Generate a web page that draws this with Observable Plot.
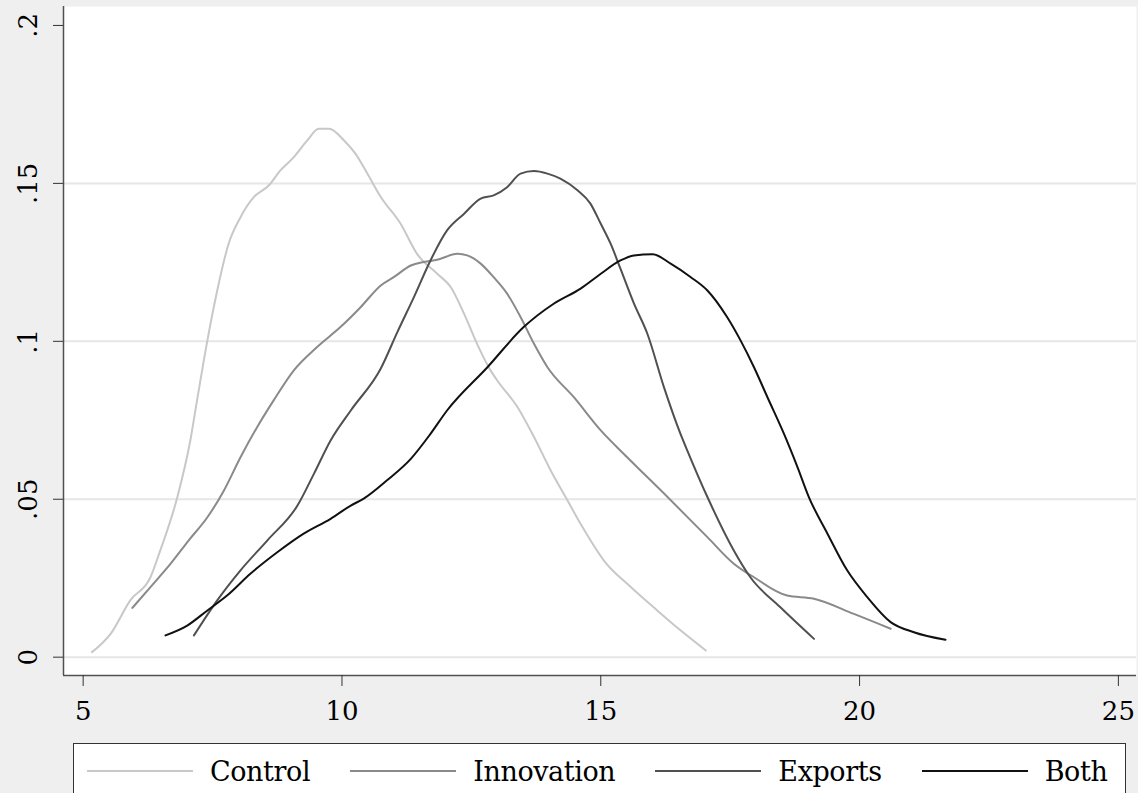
<!DOCTYPE html>
<html>
<head>
<meta charset="utf-8">
<script src="https://cdn.jsdelivr.net/npm/d3@7"></script>
<script src="https://cdn.jsdelivr.net/npm/@observablehq/plot@0.6"></script>
<style>
  html, body { margin: 0; padding: 0; background: #efefef; width: 1138px; height: 793px; overflow: hidden; }
  #chart { position: absolute; left: 0; top: 0; }
  #legend {
    position: absolute; left: 73px; top: 743px; width: 1053px; height: 90px;
    border: 1.5px solid #333; background: #fff; box-sizing: border-box;
    display: flex; align-items: center; height: 90px; padding-left: 13px; padding-bottom: 34px;
    font-family: 'DejaVu Serif', serif; font-size: 27px; color: #000;
  }
  .sw { flex: 0 0 106px; width: 106px; height: 0; border-top: 2px solid; margin-right: 17px; }
  .lab { flex: 0 0 auto; margin-right: 40px; line-height: 1; white-space: nowrap; letter-spacing: -0.4px; }
</style>
</head>
<body>
<div id="chart"></div>
<div id="legend"></div>
<script>
// ---- data ----
const seriesNames = ["Control", "Innovation", "Exports", "Both"];
const seriesColors = ["#c8c8c8", "#8a8a8a", "#505050", "#111111"];

const controlX = [5.17, 5.53, 5.91, 6.30, 6.49, 6.82, 7.07, 7.20, 7.40, 7.59, 7.81, 8.04, 8.30, 8.59, 8.81, 9.07, 9.33, 9.55, 9.75, 10.04, 10.26, 10.49, 10.75, 11.13, 11.45, 11.84, 12.10, 12.36, 12.61, 12.87, 13.00, 13.39, 13.71, 14.03, 14.32, 14.61, 15.06, 15.58, 16.09, 16.54, 17.03];
const controlY = [0.0016, 0.0074, 0.0180, 0.0253, 0.0338, 0.0507, 0.0686, 0.0813, 0.1003, 0.1161, 0.1309, 0.1393, 0.1457, 0.1494, 0.1541, 0.1583, 0.1636, 0.1673, 0.1673, 0.1636, 0.1594, 0.1531, 0.1457, 0.1373, 0.1277, 0.1214, 0.1172, 0.1087, 0.0992, 0.0908, 0.0876, 0.0792, 0.0697, 0.0592, 0.0507, 0.0422, 0.0306, 0.0222, 0.0148, 0.0085, 0.0021];

const innovationX = [5.95, 6.30, 6.69, 7.04, 7.40, 7.72, 8.04, 8.36, 8.68, 9.07, 9.52, 9.97, 10.36, 10.75, 11.00, 11.33, 11.58, 11.84, 12.23, 12.42, 12.68, 12.93, 13.19, 13.45, 13.71, 13.97, 14.48, 15.00, 15.51, 16.29, 17.06, 17.57, 17.96, 18.60, 19.12, 19.89, 20.60];
const innovationY = [0.0156, 0.0222, 0.0296, 0.0370, 0.0443, 0.0528, 0.0633, 0.0728, 0.0813, 0.0908, 0.0982, 0.1045, 0.1108, 0.1177, 0.1203, 0.1240, 0.1251, 0.1258, 0.1277, 0.1272, 0.1246, 0.1203, 0.1151, 0.1077, 0.0992, 0.0918, 0.0823, 0.0718, 0.0633, 0.0507, 0.0380, 0.0296, 0.0253, 0.0195, 0.0185, 0.0137, 0.0090];

const exportsX = [7.14, 7.59, 8.04, 8.56, 9.14, 9.46, 9.78, 10.17, 10.75, 11.07, 11.39, 11.71, 12.03, 12.36, 12.68, 12.93, 13.19, 13.45, 13.71, 13.97, 14.22, 14.55, 14.80, 15.00, 15.19, 15.38, 15.64, 15.90, 16.22, 16.54, 16.67, 17.06, 17.57, 17.89, 18.47, 19.12];
const exportsY = [0.0069, 0.0180, 0.0275, 0.0370, 0.0480, 0.0581, 0.0686, 0.0781, 0.0914, 0.1029, 0.1140, 0.1256, 0.1351, 0.1404, 0.1452, 0.1462, 0.1488, 0.1531, 0.1539, 0.1531, 0.1515, 0.1478, 0.1436, 0.1372, 0.1309, 0.1230, 0.1120, 0.1024, 0.0855, 0.0707, 0.0655, 0.0507, 0.0338, 0.0253, 0.0158, 0.0058];

const bothX = [6.59, 7.01, 7.40, 7.78, 8.23, 8.75, 9.26, 9.78, 10.17, 10.42, 10.87, 11.33, 11.71, 12.03, 12.81, 13.51, 14.09, 14.61, 15.00, 15.38, 15.64, 16.00, 16.35, 16.74, 17.06, 17.44, 17.70, 17.96, 18.22, 18.54, 18.80, 19.02, 19.38, 19.76, 20.15, 20.60, 21.05, 21.66];
const bothY = [0.0069, 0.0100, 0.0148, 0.0195, 0.0264, 0.0332, 0.0391, 0.0438, 0.0480, 0.0502, 0.0560, 0.0628, 0.0707, 0.0781, 0.0918, 0.1045, 0.1119, 0.1167, 0.1214, 0.1256, 0.1272, 0.1276, 0.1246, 0.1203, 0.1161, 0.1077, 0.1003, 0.0918, 0.0823, 0.0707, 0.0602, 0.0507, 0.0391, 0.0275, 0.0190, 0.0111, 0.0079, 0.0055];

const xTicks = [5, 10, 15, 20, 25];
const yTicks = [0, 0.05, 0.1, 0.15, 0.2];
const yTickLabels = ["0", ".05", ".1", ".15", ".2"];
const gridValues = [0, 0.05, 0.1, 0.15];

// ---- build tables ----
const seriesX = [controlX, innovationX, exportsX, bothX];
const seriesY = [controlY, innovationY, exportsY, bothY];
const tables = seriesNames.map((name, k) => seriesX[k].map((x, i) => ({series: name, x, y: seriesY[k][i]})));

const xDomain = [4.62, 25.35];
const yDomain = [-0.0058, 0.206];

const plot = Plot.plot({
  width: 1138,
  height: 743,
  marginLeft: 63,
  marginRight: 2,
  marginTop: 6,
  marginBottom: 68,
  x: {domain: xDomain, label: null},
  y: {domain: yDomain, label: null},
  style: {background: "#efefef", fontFamily: "'DejaVu Serif', serif", fontSize: "26px", color: "#000", overflow: "visible"},
  marks: [
    Plot.frame({fill: "#ffffff", stroke: null}),
    Plot.ruleY(gridValues, {stroke: "#e6e6e6", strokeWidth: 2}),
    ...tables.map((t, k) => Plot.line(t, {x: "x", y: "y", stroke: seriesColors[k], strokeWidth: 2, curve: "monotone-x"})),
    Plot.ruleX([xDomain[0]], {stroke: "#505050", strokeWidth: 1.5}),
    Plot.ruleY([yDomain[0]], {stroke: "#505050", strokeWidth: 1.5}),
    Plot.axisX(xTicks, {tickSize: 11, tickPadding: 15, tickFormat: d => String(d), stroke: "#333", label: null}),
    Plot.axisY(yTicks, {tickSize: 10, tickPadding: 17, tickRotate: -90, tickFormat: d => yTickLabels[yTicks.indexOf(d)], stroke: "#333", label: null})
  ]
});
document.getElementById("chart").appendChild(plot);

// ---- legend ----
const legend = document.getElementById("legend");
seriesNames.forEach((name, k) => {
  const sw = document.createElement("div");
  sw.className = "sw";
  sw.style.borderTopColor = seriesColors[k];
  legend.appendChild(sw);
  const lab = document.createElement("span");
  lab.className = "lab";
  lab.textContent = name;
  legend.appendChild(lab);
});
</script>
</body>
</html>
